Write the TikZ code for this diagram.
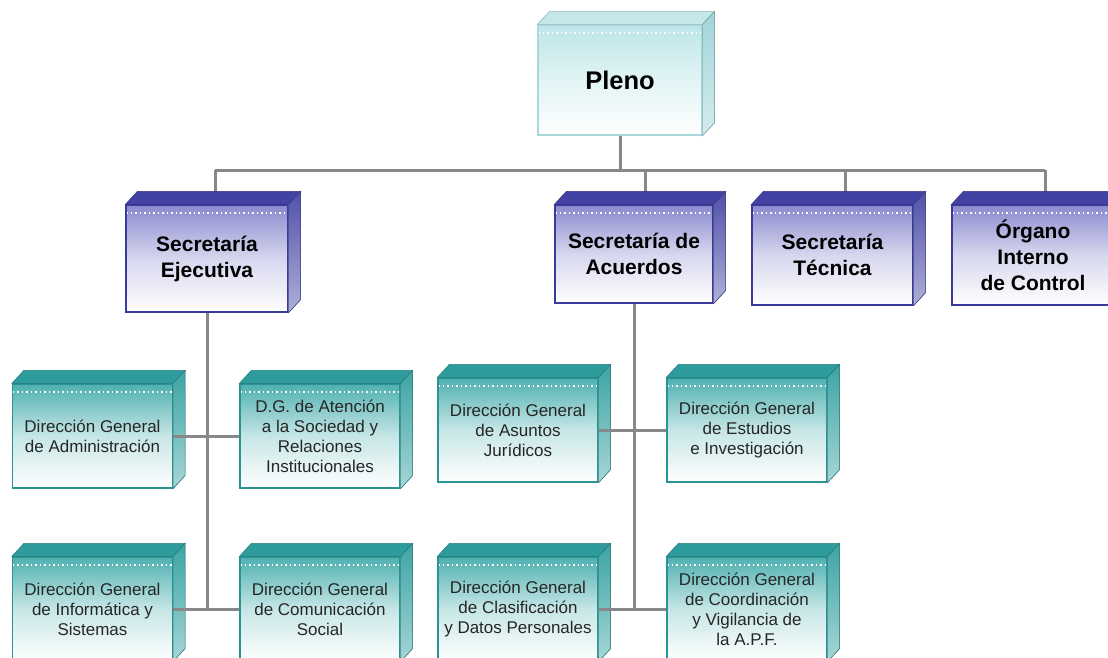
\documentclass[tikz,border=0pt]{standalone}
\usepackage{fontspec}
\setmainfont{Liberation Sans}
\usetikzlibrary{calc}
\definecolor{conector}{RGB}{136,136,136}
\definecolor{plenoborde}{RGB}{168,216,220}
\definecolor{plenoarriba}{RGB}{189,230,232}
\definecolor{plenotapa}{RGB}{196,232,234}
\definecolor{plenolado}{RGB}{160,212,216}
\definecolor{secborde}{RGB}{58,58,154}
\definecolor{secarriba}{RGB}{138,138,207}
\definecolor{sectapa}{RGB}{66,66,164}
\definecolor{seclado}{RGB}{80,80,170}
\definecolor{dirborde}{RGB}{42,148,148}
\definecolor{dirarriba}{RGB}{79,176,176}
\definecolor{dirtapa}{RGB}{46,156,156}
\definecolor{dirlado}{RGB}{60,164,164}
\tikzset{
  caja/.style = {rectangle, align=center, inner sep=2pt, line width=1.2pt,
    path picture={\draw[white, line width=1.5pt, dash pattern=on 1.5pt off 3pt]
      ([yshift=-8pt]path picture bounding box.north west) --
      ([yshift=-8pt]path picture bounding box.north east);}},% cara frontal
  c_pleno/.style = {caja, draw=plenoborde, top color=plenoarriba, bottom color=white,
    middle color=plenoarriba!45!white, font=\bfseries\fontsize{25.5}{30}\selectfont,
    minimum width=164pt, minimum height=110pt},
  c_sec/.style = {caja, draw=secborde, top color=secarriba, bottom color=white,
    middle color=secarriba!35!white, font=\bfseries\fontsize{21}{26}\selectfont,
    minimum height=100pt},
  c_dir/.style = {caja, draw=dirborde, top color=dirarriba, bottom color=white,
    middle color=dirarriba!32!white, text=black!85,
    font=\fontsize{17}{20}\selectfont,
    minimum width=160pt, minimum height=104pt},
  linea/.style = {draw=conector, line width=3pt},
}
% tapa y lado de una caja: nodo, color tapa, color lado
\newcommand{\fondo}[3]{%
  \filldraw[fill=#2, draw=#2!80!black, line width=0.6pt]
    (#1.north west) -- ++(12,-13) -- ($(#1.north east)+(12,-13)$) -- (#1.north east) -- cycle;
  \filldraw[top color=#3, bottom color=#3!45!white, draw=#3!80!black, line width=0.6pt]
    (#1.north east) -- ++(12,-13) -- ($(#1.south east)+(12,-13)$) -- (#1.south east) -- cycle;
}

\begin{document}
\begin{tikzpicture}[x=1pt,y=-1pt]
  \useasboundingbox (0,0) rectangle (1108,657);
  \clip (0,0) rectangle (1108,657);
%   coordenadas de la barra
  \coordinate (bEje) at (215,170);
  \coordinate (bAcu) at (645,170);
  \coordinate (bTec) at (845,170);
  \coordinate (bOic) at (1045,170);

%   lineas
  \path[linea] (bEje) edge (bOic);
  \path[linea] (620,135) edge (620,170);
  \path[linea] (bEje) edge (215,205);
  \path[linea] (bAcu) edge (645,205);
  \path[linea] (bTec) edge (845,205);
  \path[linea] (bOic) edge (1045,205);

%   pleno y secretarias
  \node[c_pleno] (pleno) at (620,80) {Pleno};
  \node[c_sec, minimum width=162pt, minimum height=107pt] (sEje) at (207,258.5) {Secretaría\\Ejecutiva};
  \node[c_sec, minimum width=158pt, minimum height=98pt] (sAcu) at (634,254) {Secretaría de\\Acuerdos};
  \node[c_sec, minimum width=161pt] (sTec) at (832.5,255) {Secretaría\\Técnica};
  \node[c_sec, minimum width=162pt] (oic) at (1033,255) {Órgano\\Interno\\de Control};

%   direcciones
  \node[c_dir] (dAdm) at (92.5,436) {Dirección General\\de Administración};
  \node[c_dir] (dAte) at (320,436) {D.G. de Atención\\a la Sociedad y\\Relaciones\\Institucionales};
  \node[c_dir] (dInf) at (92.5,609) {Dirección General\\de Informática y\\Sistemas};
  \node[c_dir] (dCom) at (320,609) {Dirección General\\de Comunicación\\Social};
  \node[c_dir] (dJur) at (518,430) {Dirección General\\de Asuntos\\Jurídicos};
  \node[c_dir] (dEst) at (747,430) {Dirección General\\de Estudios\\e Investigación};
  \node[c_dir] (dCla) at (518,609) {Dirección General\\de Clasificación\\y Datos Personales};
  \node[c_dir] (dCoo) at (747,609) {Dirección General\\de Coordinación\\y Vigilancia de\\la A.P.F.};

  \fondo{pleno}{plenotapa}{plenolado}
  \foreach \n in {sEje,sAcu,sTec,oic} {\fondo{\n}{sectapa}{seclado}}
  \foreach \n in {dAdm,dAte,dInf,dCom,dJur,dEst,dCla,dCoo} {\fondo{\n}{dirtapa}{dirlado}}

%   ramas
  \path[linea] (sEje.south) edge (sEje.south |- dInf.east);
  \path[linea] (sAcu.south) edge (sAcu.south |- dCla.east);
  \path[linea] (dAdm.east) edge (dAte.west);
  \path[linea] (dInf.east) edge (dCom.west);
  \path[linea] (dJur.east) edge (dEst.west);
  \path[linea] (dCla.east) edge (dCoo.west);
\end{tikzpicture}
\end{document}
